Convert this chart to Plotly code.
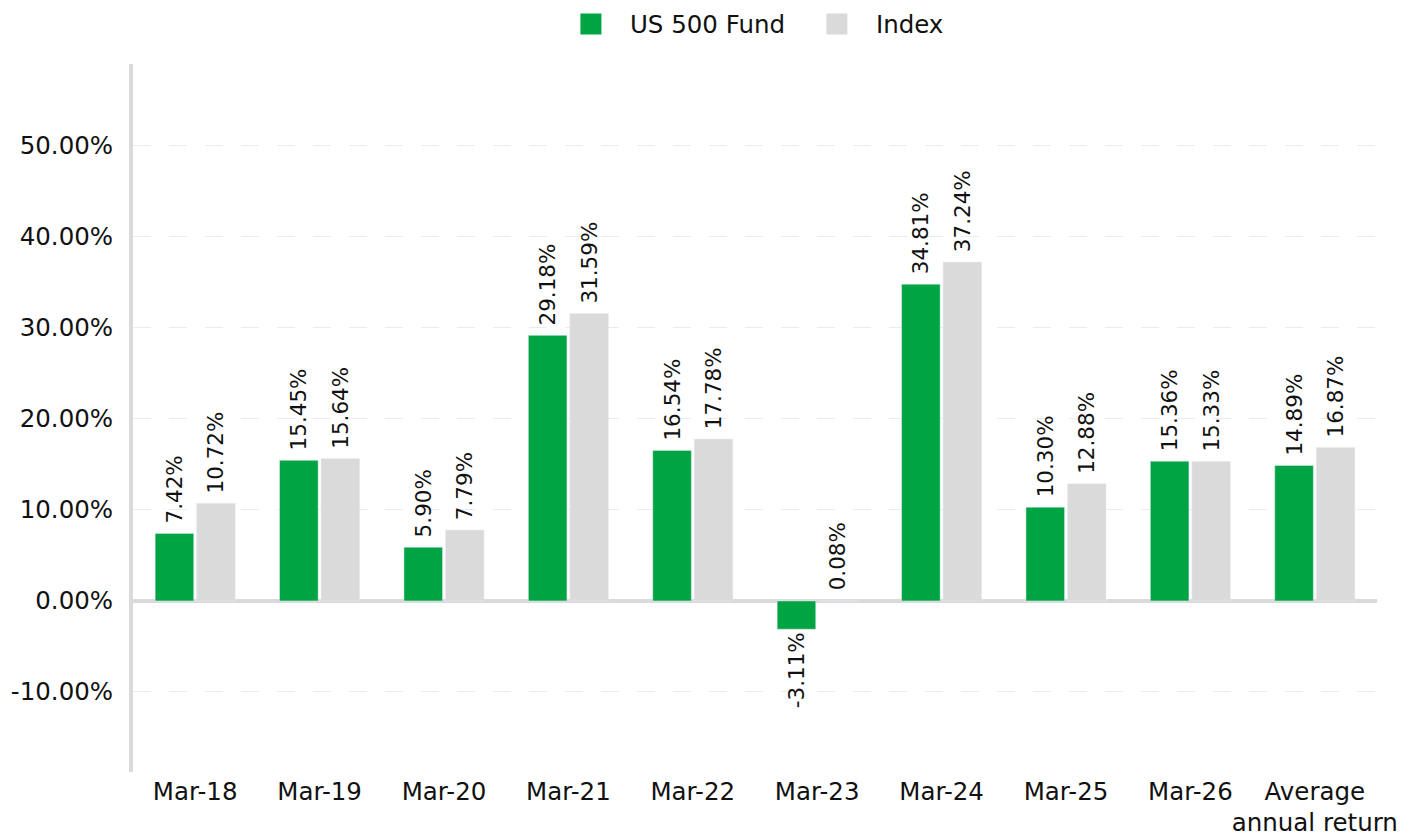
import plotly.graph_objects as go

categories = ["Mar-18", "Mar-19", "Mar-20", "Mar-21", "Mar-22", "Mar-23",
              "Mar-24", "Mar-25", "Mar-26", "Average<br>annual return"]
fund = [7.42, 15.45, 5.90, 29.18, 16.54, -3.11, 34.81, 10.30, 15.36, 14.89]
index = [10.72, 15.64, 7.79, 31.59, 17.78, 0.08, 37.24, 12.88, 15.33, 16.87]
tick_vals = [-10, 0, 10, 20, 30, 40, 50]
tick_text = [f"{v:.2f}%" for v in tick_vals]

GREEN = "#00A443"
GREY = "#DADADA"
FONT = "DejaVu Sans"

fig = go.Figure()
for name, vals, col in [("US 500 Fund", fund, GREEN), ("Index", index, GREY)]:
    fig.add_trace(go.Bar(
        x=categories, y=vals, name=name, marker_color=col,
        text=[("\u00a0" if v >= 0 else "") + f"{v:.2f}%" for v in vals],
        textposition="outside", constraintext="none",
        textangle=-90, textfont=dict(family=FONT, size=21.5, color="#111"),
        cliponaxis=False, showlegend=False,
    ))
    fig.add_trace(go.Scatter(
        x=[None], y=[None], mode="markers", name=name,
        marker=dict(symbol="square", size=16, color=col,
                    line=dict(color=col, width=5)),
    ))

# page body has an 8px default margin, so the figure is offset by 8px
fig.update_layout(
    width=1405, height=827,
    paper_bgcolor="white", plot_bgcolor="white",
    margin=dict(l=125, r=36, t=56, b=63, autoexpand=False),
    barmode="group", bargap=0.333, bargroupgap=0.07,
    font=dict(family=FONT, size=24.5, color="#111"),
    legend=dict(orientation="h", x=0.5345, xanchor="center", y=1 - 16 / 827, yanchor="middle",
                yref="container", font=dict(size=24.5), itemwidth=68,
                entrywidthmode="pixels", entrywidth=163),
)
fig.update_xaxes(showline=False, showgrid=False, ticks="", tickfont=dict(size=24.5),
                 tickangle=0, ticklabelstandoff=2, automargin=False)
fig.update_yaxes(range=[-18.8, 59], tickvals=tick_vals, ticktext=tick_text,
                 showgrid=True, gridcolor="#EBEBEB", griddash="18px,18px", gridwidth=1,
                 zeroline=True, zerolinecolor=GREY, zerolinewidth=4,
                 showline=True, linecolor=GREY, linewidth=4,
                 ticks="", ticklabelstandoff=11, tickfont=dict(size=24.5),
                 automargin=False)

fig.write_html("out.html")
